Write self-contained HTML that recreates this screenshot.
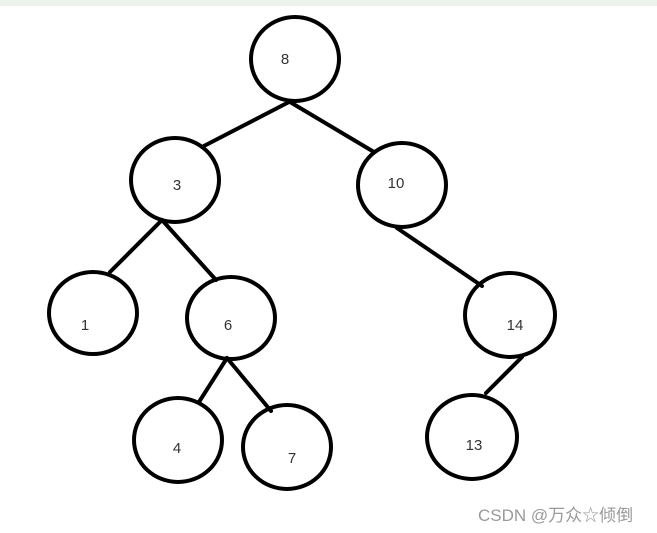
<!DOCTYPE html>
<html><head><style>
html,body{margin:0;padding:0;background:#fff;}
svg{display:block;}
text{font-family:"Liberation Sans",sans-serif;font-size:15px;fill:#333;}
</style></head><body>
<svg width="657" height="533" viewBox="0 0 657 533">
<rect x="0" y="0" width="657" height="6" fill="#eef2ec"/>
<g stroke="#000" stroke-width="4" fill="none" stroke-linecap="round">
<line x1="289" y1="102" x2="202" y2="147"/>
<line x1="290" y1="102" x2="374" y2="152"/>
<line x1="162" y1="220" x2="110" y2="272"/>
<line x1="162" y1="220" x2="216" y2="280"/>
<line x1="397" y1="228" x2="482" y2="286"/>
<line x1="227" y1="358" x2="199" y2="402"/>
<line x1="227" y1="358" x2="271" y2="411"/>
<line x1="522" y1="357" x2="486" y2="393"/>
<ellipse cx="295" cy="59" rx="44" ry="42"/>
<ellipse cx="175" cy="180" rx="44" ry="42"/>
<ellipse cx="402" cy="185" rx="44" ry="42"/>
<ellipse cx="93" cy="313" rx="44" ry="41"/>
<ellipse cx="231" cy="318" rx="44" ry="41"/>
<ellipse cx="510" cy="315" rx="45" ry="42"/>
<ellipse cx="178" cy="440" rx="44" ry="42"/>
<ellipse cx="287" cy="447" rx="44" ry="42"/>
<ellipse cx="472" cy="437" rx="45" ry="42"/>
</g>
<g text-anchor="middle">
<text x="285" y="64">8</text>
<text x="177" y="190">3</text>
<text x="396" y="188">10</text>
<text x="85" y="330">1</text>
<text x="228" y="330">6</text>
<text x="515" y="330">14</text>
<text x="177" y="453">4</text>
<text x="292" y="463">7</text>
<text x="474" y="450">13</text>
</g>
<text x="478" y="521" style="font-family:'Liberation Sans','Noto Sans CJK SC',sans-serif;font-size:17px;fill:#999;">CSDN @万众☆倾倒</text>
</svg>
</body></html>
